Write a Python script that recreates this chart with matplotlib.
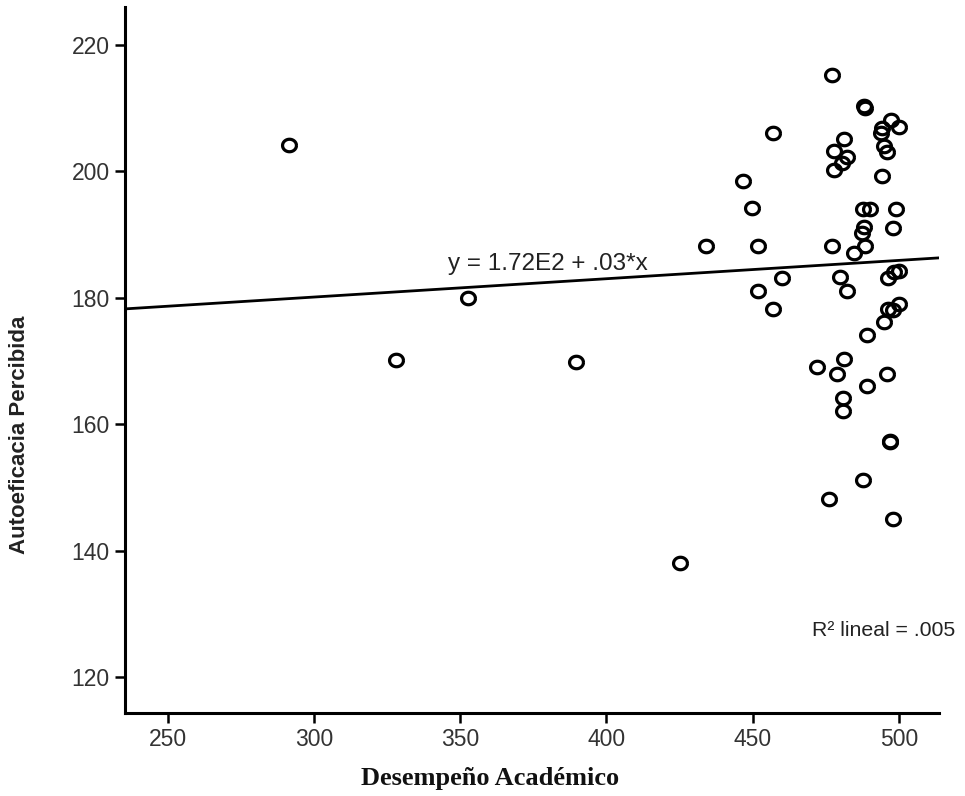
import numpy as np
import matplotlib
matplotlib.use("Agg")
import matplotlib.pyplot as plt

# values
desempeno = [291.6, 328.0, 352.7, 389.5, 425.1,
             434.0, 446.8, 449.9, 451.9, 451.9, 456.8, 457.0, 459.9, 471.9, 476.1,
             477.0, 477.0, 477.9, 477.8, 478.9, 480.4, 479.8, 481.2, 481.2, 481.0,
             481.0, 482.1, 482.1, 484.6, 487.3, 488.1, 488.3, 487.8, 488.1, 488.4,
             487.8, 489.2, 489.0, 490.1, 494.4, 493.8, 494.1, 494.9, 494.9, 496.0,
             496.4, 496.4, 496.0, 497.2, 496.9, 497.1, 498.1, 498.1, 498.1, 499.0,
             500.1, 500.2, 498.4, 500.1]
autoeficacia = [204.2, 170.1, 180.0, 169.8, 138.1,
                188.2, 198.4, 194.2, 188.2, 181.1, 206.1, 178.2, 183.1, 169.0, 148.1,
                215.2, 188.2, 203.2, 200.2, 168.0, 201.3, 183.2, 205.1, 170.3, 164.1,
                162.1, 202.2, 181.1, 187.1, 190.2, 210.3, 210.0, 194.0, 191.2, 188.2,
                151.1, 174.1, 166.1, 194.0, 206.8, 206.1, 199.3, 204.0, 176.1, 203.1,
                183.1, 178.2, 168.0, 208.1, 157.1, 157.3, 191.0, 178.0, 145.0, 194.0,
                207.0, 184.3, 184.1, 179.0]

# fitted line as printed by spss
intercept = 171.4
slope = 0.029
eq_label = "y = 1.72E2 + .03*x"
r2_label = "R\u00b2 lineal = .005"

x_ticks = [250, 300, 350, 400, 450, 500]
y_ticks = [120, 140, 160, 180, 200, 220]
x_lim = (235.4, 513.7)
y_lim = (114.3, 226.0)

plt.rcParams["font.family"] = ["Liberation Sans", "DejaVu Sans"]

fig = plt.figure(figsize=(9.65, 7.96), dpi=100)
ax = fig.add_axes([0.1295, 0.1043, 0.8435, 0.887])

# slightly flattened ring marker, like the spss output
theta = np.linspace(0, 2 * np.pi, 60)
ring = np.column_stack([np.cos(theta), 0.9 * np.sin(theta)])

ax.plot(desempeno, autoeficacia, linestyle="none", marker=ring, markersize=10,
        markerfacecolor="none", markeredgecolor="black", markeredgewidth=2.3, zorder=3)

xs = np.array(x_lim)
ax.plot(xs, intercept + slope * xs, color="black", linewidth=2.0, zorder=2)

ax.text(345.8, 185.4, eq_label, fontsize=17.5, color="#222222", va="center", ha="left")
ax.text(470.2, 127.3, r2_label, fontsize=15.3, color="#222222", va="center", ha="left",
        clip_on=False)

ax.set_xlim(*x_lim)
ax.set_ylim(*y_lim)
ax.set_xticks(x_ticks)
ax.set_yticks(y_ticks)

for side in ["top", "right"]:
    ax.spines[side].set_visible(False)
for side in ["left", "bottom"]:
    ax.spines[side].set_linewidth(2.2)

ax.tick_params(axis="both", direction="out", length=7, width=1.8, pad=4,
               labelsize=16.5, labelcolor="#333333")

fig.text(20 / 965, 1 - 435 / 796, "Autoeficacia Percibida", rotation=90,
         ha="center", va="center", fontsize=16, fontweight="bold", color="#222222")
fig.text(490 / 965, 1 - 778 / 796, "Desempeño Académico", ha="center", va="center",
         fontsize=19, fontweight="bold", family=["Liberation Serif", "DejaVu Serif"],
         color="#111111")

fig.savefig("out.png", dpi=100)
